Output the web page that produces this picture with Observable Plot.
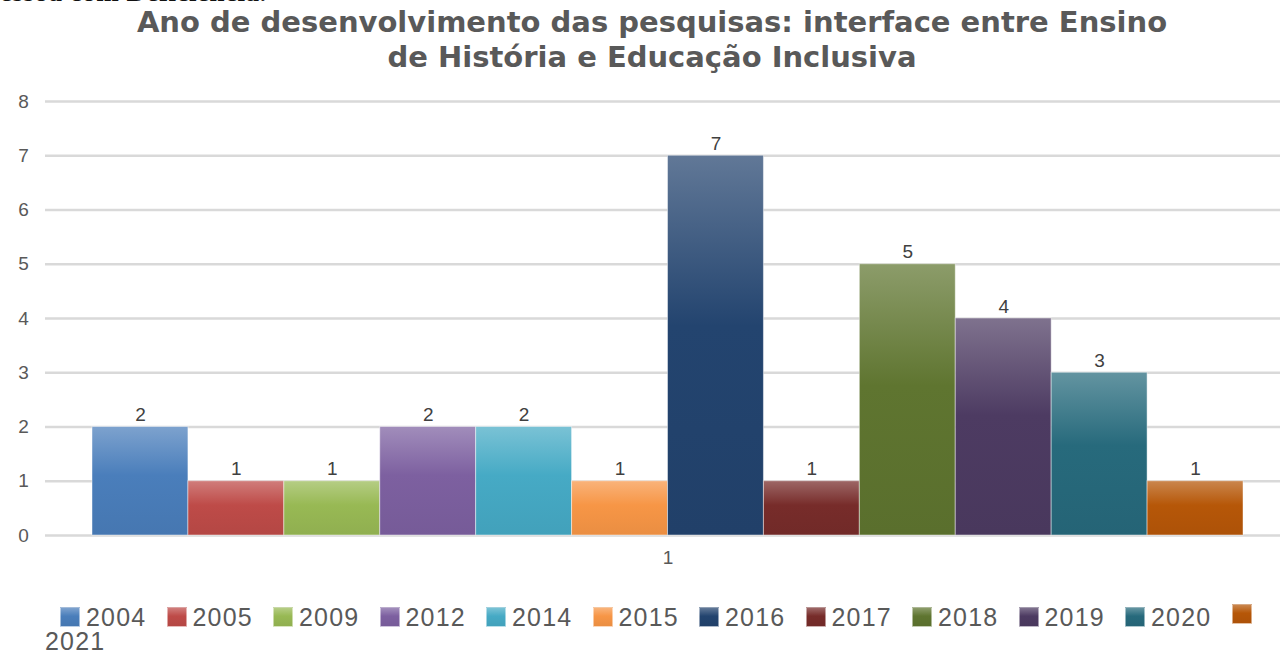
<!DOCTYPE html>
<html>
<head>
<meta charset="utf-8">
<script src="https://cdn.jsdelivr.net/npm/d3@7"></script>
<script src="https://cdn.jsdelivr.net/npm/@observablehq/plot@0.6"></script>
<style>
  html, body { margin: 0; padding: 0; background: #fff; }
  #page { position: relative; width: 1280px; height: 654px; overflow: hidden; }
  #cut { position: absolute; left: 0; top: -23px; font-family: "Liberation Serif", serif; font-size: 27px; font-weight: bold; color: #111; white-space: nowrap; letter-spacing: 0.5px; }
  #title { position: absolute; left: 0; top: 5px; width: 1280px; text-align: center; font-family: "DejaVu Sans", sans-serif; font-weight: bold; font-size: 29px; line-height: 35px; color: #595959; transform: translateX(12px); }
  #chart { position: absolute; left: 0; top: 80px; }
  #legend { position: absolute; left: 0; top: 0; width: 1280px; height: 654px; pointer-events: none; font-family: "Liberation Sans", Arial, sans-serif; font-size: 25px; color: #595959; }
  .item { position: absolute; display: flex; align-items: center; white-space: nowrap; letter-spacing: 1.2px; line-height: 26px; }
  .sw { width: 20px; height: 20px; margin-right: 6px; box-sizing: border-box; border: 1px solid rgba(255,255,255,0.5); }
</style>
</head>
<body>
<div id="page">
  <div id="cut">essoa com Deficiência.</div>
  <div id="title">Ano de desenvolvimento das pesquisas: interface entre Ensino<br>de História e Educação Inclusiva</div>
  <div id="chart"></div>
  <div id="legend"></div>
</div>
<script>
// ---- data ----
const years = ["2004", "2005", "2009", "2012", "2014", "2015", "2016", "2017", "2018", "2019", "2020", "2021"];
const counts = [2, 1, 1, 2, 2, 1, 7, 1, 5, 4, 3, 1];
const category = ["1"];
const yTicks = [0, 1, 2, 3, 4, 5, 6, 7, 8];

// ---- styles ----
const palette = ["#4a7ebb", "#be4b48", "#98b954", "#7d60a0", "#46aac5", "#f79646",
                 "#23446f", "#772c2a", "#5f7530", "#4d3b62", "#276a7c", "#b65708"];

const rows = years.map((y, i) => ({year: y, value: counts[i], gid: "grad" + i}));

function gradStops(c) {
  const top = d3.interpolateRgb(c, "#ffffff")(0.28);
  const bottom = d3.color(c).darker(0.15).formatHex();
  return [[0, top], [0.45, c], [1, bottom]];
}

const defsMark = () => {
  const defs = d3.create("svg:defs");
  palette.forEach((c, i) => {
    const g = defs.append("linearGradient").attr("id", "grad" + i)
      .attr("x1", 0).attr("y1", 0).attr("x2", 0).attr("y2", 1);
    gradStops(c).forEach(([o, col]) => g.append("stop").attr("offset", o).attr("stop-color", col));
  });
  return defs.node();
};

const plot = Plot.plot({
  width: 1280,
  height: 510,
  marginLeft: 92,
  marginRight: 37,
  marginTop: 21,
  marginBottom: 55,
  style: { fontFamily: "'Liberation Sans', Arial, sans-serif", background: "transparent" },
  x: { type: "band", domain: years, padding: 0, round: false, axis: null },
  y: { domain: [0, 8], ticks: yTicks, label: null },
  color: { type: "identity" },
  marks: [
    defsMark,
    Plot.gridY(yTicks, { stroke: "#d9d9d9", strokeOpacity: 1, strokeWidth: 2.5, insetLeft: -47, insetRight: -37 }),
    Plot.axisY({ ticks: yTicks, tickSize: 0, tickPadding: 63, fontSize: 19, fill: "#595959", textAnchor: "middle", dx: -6 }),
    Plot.barY(rows, { x: "year", y: "value", fill: d => `url(#${d.gid})`, stroke: "#ffffff", strokeOpacity: 0.45, strokeWidth: 1 }),
    Plot.text(rows, { x: "year", y: "value", text: d => String(d.value), dy: -12, fontSize: 19, fill: "#404040" }),
    Plot.text(category, { frameAnchor: "bottom", text: d => d, dy: 28, fontSize: 19, fill: "#595959" })
  ]
});
document.getElementById("chart").appendChild(plot);

// ---- legend ----
const legend = document.getElementById("legend");
function swatch(i) {
  const sw = document.createElement("div");
  sw.className = "sw";
  const [[, t], [, m], [, b]] = gradStops(palette[i]);
  sw.style.background = `linear-gradient(${t}, ${m} 45%, ${b})`;
  return sw;
}
years.forEach((y, i) => {
  const el = document.createElement("div");
  el.className = "item";
  el.style.left = (60 + i * 106.5) + "px";
  el.style.top = "604px";
  el.appendChild(swatch(i));
  if (i < 11) {
    const tx = document.createElement("span");
    tx.textContent = y;
    el.appendChild(tx);
  } else {
    const el2 = document.createElement("div");
    el2.className = "item";
    el2.style.left = "45px";
    el2.style.top = "628px";
    const tx = document.createElement("span");
    tx.textContent = y;
    el2.appendChild(tx);
    legend.appendChild(el2);
  }
  legend.appendChild(el);
});
</script>
</body>
</html>
